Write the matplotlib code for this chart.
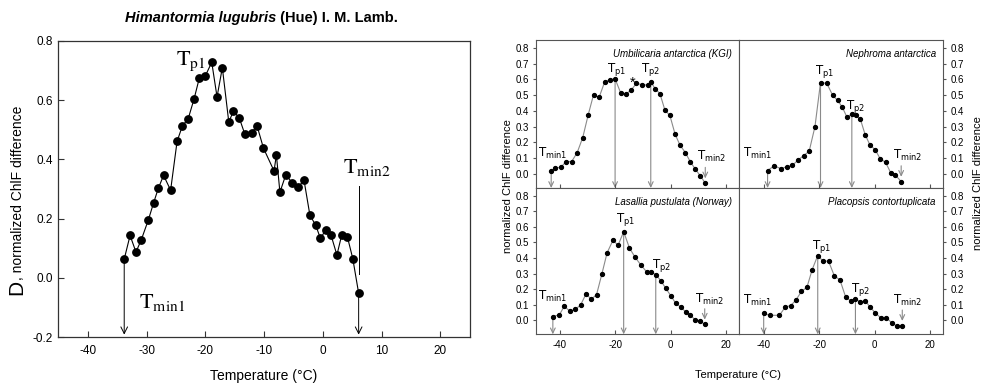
import numpy as np
import matplotlib.pyplot as plt
from matplotlib.ticker import FormatStrFormatter

plt.rcParams['font.family'] = ['Liberation Sans', 'DejaVu Sans']
plt.rcParams['axes.unicode_minus'] = False

# Himantormia lugubris (big panel)
him_t = [-33.8, -32.8, -31.8, -30.9, -29.7, -28.8, -28.0, -27.1, -25.9, -24.8,
         -23.9, -22.9, -21.9, -21.0, -20.0, -18.9, -18.0, -17.1, -16.0, -15.2,
         -14.2, -13.3, -12.1, -11.2, -10.1, -8.3, -7.9, -7.3, -6.3, -5.2,
         -4.2, -3.2, -2.2, -1.2, -0.4, 0.5, 1.4, 2.4, 3.2, 4.2, 5.1, 6.1]
him_d = [0.063, 0.143, 0.087, 0.128, 0.195, 0.253, 0.302, 0.346, 0.296, 0.461,
         0.513, 0.538, 0.605, 0.676, 0.682, 0.728, 0.611, 0.710, 0.526, 0.564,
         0.539, 0.487, 0.490, 0.514, 0.438, 0.361, 0.415, 0.289, 0.348, 0.321,
         0.306, 0.330, 0.212, 0.177, 0.133, 0.162, 0.144, 0.077, 0.143, 0.137,
         0.065, -0.052]

# Umbilicaria antarctica (KGI)
umb_t = [-43.2, -41.7, -39.6, -37.8, -35.8, -33.8, -31.8, -29.8, -27.9, -25.9,
         -23.9, -22.0, -20.1, -18.1, -16.3, -14.4, -12.4, -10.4, -8.3, -7.2,
         -5.6, -3.9, -2.1, -0.3, 1.6, 3.4, 5.3, 7.1, 8.9, 10.7, 12.5]
umb_d = [0.017, 0.034, 0.044, 0.078, 0.078, 0.135, 0.230, 0.376, 0.502, 0.485,
         0.582, 0.599, 0.603, 0.515, 0.506, 0.530, 0.574, 0.567, 0.563, 0.584,
         0.540, 0.510, 0.405, 0.371, 0.251, 0.181, 0.135, 0.076, 0.030, -0.013,
         -0.059]

# Nephroma antarctica
nep_t = [-38.6, -36.2, -33.7, -31.7, -29.7, -27.7, -25.6, -23.6, -21.5, -19.5,
         -17.2, -15.1, -13.3, -11.6, -10.0, -8.2, -6.7, -5.1, -3.4, -1.6,
         0.2, 2.0, 4.0, 5.8, 7.5, 9.6]
nep_d = [0.021, 0.051, 0.032, 0.046, 0.053, 0.086, 0.116, 0.143, 0.300, 0.580,
         0.574, 0.498, 0.466, 0.422, 0.361, 0.380, 0.371, 0.346, 0.249, 0.181,
         0.154, 0.097, 0.072, 0.008, -0.008, -0.049]

# Lasallia pustulata (Norway)
las_t = [-42.6, -40.2, -38.5, -36.4, -34.5, -32.6, -30.6, -28.7, -26.8, -24.9,
         -23.0, -20.9, -19.0, -17.0, -14.9, -12.9, -10.9, -8.6, -7.0, -5.4,
         -3.6, -1.8, 0.0, 1.8, 3.6, 5.4, 7.1, 8.8, 10.6, 12.3]
las_d = [0.024, 0.036, 0.090, 0.058, 0.071, 0.097, 0.170, 0.135, 0.165, 0.296,
         0.433, 0.513, 0.483, 0.569, 0.464, 0.406, 0.358, 0.309, 0.309, 0.294,
         0.255, 0.206, 0.159, 0.109, 0.086, 0.054, 0.032, 0.004, -0.004, -0.026]

# Placopsis contortuplicata
pla_t = [-40.0, -37.9, -34.3, -32.2, -30.3, -28.4, -26.4, -24.4, -22.5, -20.5,
         -18.6, -16.6, -14.5, -12.5, -10.4, -8.5, -6.9, -5.1, -3.4, -1.6,
         0.2, 2.4, 4.3, 6.2, 8.0, 10.0]
pla_d = [0.045, 0.032, 0.032, 0.086, 0.094, 0.129, 0.185, 0.212, 0.326, 0.416,
         0.380, 0.380, 0.285, 0.260, 0.148, 0.124, 0.139, 0.116, 0.127, 0.084,
         0.049, 0.013, 0.017, -0.017, -0.036, -0.034]

species = ['Umbilicaria antarctica (KGI)', 'Nephroma antarctica',
           'Lasallia pustulata (Norway)', 'Placopsis contortuplicata']
# index of Tp1 / Tp2 point in each series
tp1_idx = [12, 9, 13, 9]
tp2_idx = [19, 15, 19, 16]

# label positions (left of T, baseline): Tmin1, Tp1, Tp2, Tmin2
label_pos = [
    [(-48.1, 0.105), (-23.2, 0.648), (-10.7, 0.648), (9.4, 0.089)],
    [(-47.4, 0.110), (-21.4, 0.637), (-10.4, 0.410), (6.8, 0.093)],
    [(-48.1, 0.129), (-19.6, 0.633), (-6.8, 0.339), (8.8, 0.112)],
    [(-47.4, 0.107), (-22.5, 0.461), (-8.6, 0.182), (6.5, 0.103)],
]
label_txt = [r'$\mathrm{T_{min1}}$', r'$\mathrm{T_{p1}}$', r'$\mathrm{T_{p2}}$', r'$\mathrm{T_{min2}}$']

W, H = 987, 385
fig = plt.figure(figsize=(W / 100, H / 100), dpi=100)


def fx(px):
    return px / W


def fy(py):
    return 1 - py / H


def down_arrow(ax, x, y0, y1, color, lw, hl, hw):
    ax.annotate('', xy=(x, y1), xytext=(x, y0),
                arrowprops=dict(arrowstyle=f'->,head_length={hl},head_width={hw}',
                                color=color, lw=lw, shrinkA=0, shrinkB=0), zorder=1)


# ---------------- big panel ----------------
ax = fig.add_axes([fx(58.4), fy(337), fx(469.7 - 58.4), (337 - 41) / H])
ax.plot(him_t, him_d, '-', color='black', lw=0.8, marker='o', ms=5.3,
        mfc='black', mec='black', zorder=3)
ax.set_xlim(-45, 25)
ax.set_ylim(-0.2, 0.8)
ax.set_xticks(np.arange(-40, 21, 10))
ax.set_yticks(np.arange(-0.2, 0.81, 0.2))
ax.yaxis.set_major_formatter(FormatStrFormatter('%.1f'))
ax.tick_params(direction='in', length=4, labelsize=8.5, color='#333333')
ax.tick_params(axis='x', pad=6)
ax.tick_params(axis='y', pad=4)
for s in ax.spines.values():
    s.set_color('#333333')
    s.set_linewidth(0.9)

down_arrow(ax, him_t[0], him_d[0], -0.192, 'black', 0.7, 0.48, 0.24)
ax.plot([him_t[-1], him_t[-1]], [0.311, 0.013], color='black', lw=0.7)
down_arrow(ax, him_t[-1], him_d[-1], -0.192, 'black', 0.7, 0.48, 0.24)

big_labels = [(r'$\mathrm{T_{p1}}$', -25.0, 0.72), (r'$\mathrm{T_{min2}}$', 3.5, 0.353),
              (r'$\mathrm{T_{min1}}$', -31.3, -0.103)]
for txt, x, y in big_labels:
    ax.text(x, y, txt, fontsize=16, math_fontfamily='stix', ha='left', va='baseline')

fig.text(fx(264), fy(376), 'Temperature (°C)', fontsize=10, ha='center', va='center')
fig.text(fx(22), fy(295), 'D', fontsize=15, rotation=90, rotation_mode='anchor',
         ha='left', va='baseline')
fig.text(fx(22), fy(280), ', normalized ChlF difference', fontsize=10, rotation=90,
         rotation_mode='anchor', ha='left', va='baseline')

# title: italic species name + plain authority
t1 = fig.text(fx(276), fy(18), 'Himantormia lugubris', fontsize=10.5,
              fontweight='bold', fontstyle='italic', ha='right', va='center')
ax.annotate(' (Hue) I. M. Lamb.', xy=(1, 0), xycoords=t1, ha='left', va='bottom',
            fontsize=10.5, fontweight='bold', annotation_clip=False)

# ---------------- 2x2 grid ----------------
xl, xm, xr = 535.7, 739.3, 943.3
yt, ym, yb = 40, 188, 334.3
boxes = [
    [fx(xl), fy(ym), fx(xm - xl), (ym - yt) / H],
    [fx(xm), fy(ym), fx(xr - xm), (ym - yt) / H],
    [fx(xl), fy(yb), fx(xm - xl), (yb - ym) / H],
    [fx(xm), fy(yb), fx(xr - xm), (yb - ym) / H],
]
series = [(umb_t, umb_d), (nep_t, nep_d), (las_t, las_d), (pla_t, pla_d)]
ybot = -0.09
grey = '#8a8a8a'

for i, (box, (t, d)) in enumerate(zip(boxes, series)):
    a = fig.add_axes(box)
    a.plot(t, d, '-', color=grey, lw=0.8, zorder=2)
    a.plot(t, d, 'o', color='black', ms=2.8, zorder=3)
    a.set_xlim(-48.8, 24.8)
    a.set_ylim(ybot, 0.85)
    a.set_xticks([-40, -20, 0, 20])
    a.set_yticks(np.arange(0, 0.81, 0.1))
    a.yaxis.set_major_formatter(FormatStrFormatter('%.1f'))
    a.tick_params(axis='x', direction='in', length=3, labelsize=7, pad=4, color='#555555')
    a.tick_params(axis='y', direction='out', length=2.5, labelsize=7, pad=2, color='#555555')
    for s in a.spines.values():
        s.set_color('#555555')
        s.set_linewidth(0.8)
    if i < 2:
        a.tick_params(axis='x', labelbottom=False)
    if i % 2 == 1:
        a.yaxis.tick_right()
        a.tick_params(axis='y', pad=3)

    down_arrow(a, t[0], d[0], ybot, grey, 0.8, 0.36, 0.17)
    down_arrow(a, t[tp1_idx[i]], d[tp1_idx[i]], ybot, grey, 0.8, 0.36, 0.17)
    down_arrow(a, t[tp2_idx[i]], d[tp2_idx[i]], ybot, grey, 0.8, 0.36, 0.17)
    down_arrow(a, t[-1], d[-1] + 0.1, d[-1] + 0.03, grey, 0.8, 0.36, 0.17)

    for txt, (x, y) in zip(label_txt, label_pos[i]):
        a.text(x, y, txt, fontsize=8.5, math_fontfamily='dejavusans',
               ha='left', va='baseline')
    a.text(0.963, 0.905, species[i], transform=a.transAxes, fontsize=7,
           fontstyle='italic', ha='right', va='center')
    if i == 0:
        a.text(-13.6, 0.555, '*', fontsize=10.5, ha='center', va='baseline')

fig.text(fx(508), fy(186), 'normalized ChlF difference', fontsize=8, rotation=90,
         ha='center', va='center')
fig.text(fx(978), fy(183), 'normalized ChlF difference', fontsize=8, rotation=90,
         ha='center', va='center')
fig.text(fx(738), fy(375), 'Temperature (°C)', fontsize=8, ha='center', va='center')

fig.savefig('out.png', dpi=100)
